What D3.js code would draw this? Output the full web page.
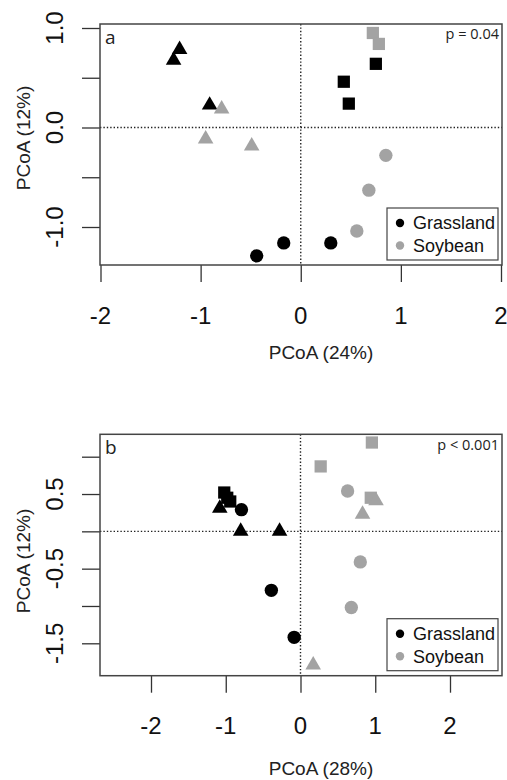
<!DOCTYPE html>
<html>
<head>
<meta charset="utf-8">
<script src="https://cdn.jsdelivr.net/npm/d3@7"></script>
<style>
  body { margin: 0; background: #fff; }
  svg { display: block; }
</style>
</head>
<body>
<svg id="chart" width="507" height="780"></svg>
<script>
// ---------- data ----------
const groups = ["Grassland", "Soybean"];
const groupColors = ["#000000", "#a3a3a3"];

// Panel a  (PCoA 24% x PCoA 12%)
const aLand  = ["Grassland","Grassland","Grassland","Soybean","Soybean","Soybean",
                "Soybean","Soybean","Grassland","Grassland","Grassland",
                "Soybean","Soybean","Soybean","Grassland","Grassland","Grassland"];
const aShape = ["triangle","triangle","triangle","triangle","triangle","triangle",
                "square","square","square","square","square",
                "circle","circle","circle","circle","circle","circle"];
const aX = [-1.21,-1.27,-0.91,-0.79,-0.95,-0.49, 0.72,0.78,0.75,0.43,0.48, 0.85,0.68,0.56,-0.17,-0.44,0.30];
const aY = [ 0.80, 0.69, 0.24, 0.20,-0.10,-0.17, 0.95,0.84,0.64,0.46,0.24,-0.28,-0.63,-1.04,-1.16,-1.29,-1.16];

// Panel b  (PCoA 28% x PCoA 12%)
const bLand  = ["Soybean","Soybean","Soybean","Soybean","Soybean","Soybean","Soybean","Soybean","Soybean",
                "Grassland","Grassland","Grassland","Grassland","Grassland","Grassland","Grassland","Grassland","Grassland"];
const bShape = ["square","square","square","circle","circle","circle","triangle","triangle","triangle",
                "square","square","square","triangle","triangle","triangle","circle","circle","circle"];
const bX = [0.955,0.27,0.94, 0.63,0.80,0.68, 1.01,0.83,0.17, -1.02,-0.94,-0.98, -1.08,-0.80,-0.28, -0.79,-0.39,-0.085];
const bY = [1.19,0.87,0.45, 0.54,-0.41,-1.02, 0.43,0.25,-1.77, 0.52,0.40,0.45, 0.33,0.02,0.02, 0.29,-0.79,-1.42];

const aXTicks = [-2,-1,0,1,2];
const aYTicks = [-1.0,-0.5,0.0,0.5,1.0];
const aYLabels = ["-1.0","0.0","1.0"];
const bXTicks = [-2,-1,0,1,2];
const bYTicks = [-1.5,-1.0,-0.5,0.0,0.5,1.0];
const bYLabels = ["-1.5","-0.5","0.5"];

const panels = [
  { tag: "a", pText: "p = 0.04", xTitle: "PCoA (24%)", yTitle: "PCoA (12%)",
    land: aLand, shape: aShape, xs: aX, ys: aY,
    xTicks: aXTicks, yTicks: aYTicks, yLabels: aYLabels,
    xDomain: [-2, 2], xRange: [100.5, 501],
    yDomain: [-1, 1], yRange: [227, 28],
    box: { l: 100, r: 502, t: 24, b: 265 },
    xLabY: 315, xTitleY: 352, yTitleY: 138 },
  { tag: "b", pText: "p < 0.001", xTitle: "PCoA (28%)", yTitle: "PCoA (12%)",
    land: bLand, shape: bShape, xs: bX, ys: bY,
    xTicks: bXTicks, yTicks: bYTicks, yLabels: bYLabels,
    xDomain: [-2, 2], xRange: [151, 450],
    yDomain: [-1.5, 1.0], yRange: [643.3, 456.7],
    box: { l: 100, r: 502, t: 434.3, b: 675.7 },
    xLabY: 725, xTitleY: 768, yTitleY: 561 }
];

const color = d3.scaleOrdinal().domain(groups).range(groupColors);
const symType = { circle: d3.symbolCircle, square: d3.symbolSquare, triangle: d3.symbolTriangle };
const symSize = { circle: 140, square: 150, triangle: 105 };

const svg = d3.select("#chart");
const FONT = "'Liberation Sans', Arial, sans-serif";
const FONT2 = "'Open Sans', 'Liberation Sans', sans-serif";

panels.forEach(p => {
  const x = d3.scaleLinear().domain(p.xDomain).range(p.xRange);
  const y = d3.scaleLinear().domain(p.yDomain).range(p.yRange);
  const g = svg.append("g");
  const B = p.box;

  // dotted zero lines
  g.append("line").attr("x1", x(0)).attr("x2", x(0)).attr("y1", B.t).attr("y2", B.b)
    .attr("stroke", "#222").attr("stroke-width", 1.4).attr("stroke-dasharray", "1.4,2");
  g.append("line").attr("x1", B.l).attr("x2", B.r).attr("y1", y(0)).attr("y2", y(0))
    .attr("stroke", "#222").attr("stroke-width", 1.4).attr("stroke-dasharray", "1.4,2");

  // x axis ticks
  const xAxis = d3.axisBottom(x).tickValues(p.xTicks).tickSize(17).tickFormat("");
  const xg = g.append("g").attr("transform", `translate(0,${B.b})`).call(xAxis);
  xg.select(".domain").remove();
  xg.selectAll(".tick line").attr("stroke", "#333").attr("stroke-width", 1.3);
  g.selectAll(".xlab").data(p.xTicks).enter().append("text")
    .attr("x", d => x(d)).attr("y", p.xLabY).attr("dy", "0.36em")
    .attr("text-anchor", "middle").attr("font-family", FONT).attr("font-size", 24)
    .attr("fill", "#111").text(d => String(d));

  // y axis ticks
  const yAxis = d3.axisLeft(y).tickValues(p.yTicks).tickSize(18).tickFormat("");
  const yg = g.append("g").attr("transform", `translate(${B.l},0)`).call(yAxis);
  yg.select(".domain").remove();
  yg.selectAll(".tick line").attr("stroke", "#333").attr("stroke-width", 1.3);
  g.selectAll(".ylab").data(p.yLabels).enter().append("text")
    .attr("transform", d => `translate(54,${y(+d)}) rotate(-90)`)
    .attr("dy", "0.36em").attr("text-anchor", "middle")
    .attr("font-family", FONT).attr("font-size", 24).attr("fill", "#111")
    .text(d => d);

  // axis titles
  g.append("text").attr("x", 321).attr("y", p.xTitleY).attr("dy", "0.36em")
    .attr("text-anchor", "middle").attr("font-family", FONT).attr("font-size", 19)
    .attr("fill", "#222").text(p.xTitle);
  g.append("text").attr("transform", `translate(23,${p.yTitleY}) rotate(-90)`)
    .attr("dy", "0.36em").attr("text-anchor", "middle").attr("font-family", FONT)
    .attr("font-size", 19).attr("fill", "#222").text(p.yTitle);

  // points
  const pts = p.xs.map((v, i) => ({ x: v, y: p.ys[i], land: p.land[i], shape: p.shape[i] }));
  g.selectAll(".pt").data(pts).enter().append("path")
    .attr("transform", d => `translate(${x(d.x)},${y(d.y) + (d.shape === "triangle" ? 1.5 : 0)})`)
    .attr("d", d => d3.symbol().type(symType[d.shape]).size(symSize[d.shape])())
    .attr("fill", d => color(d.land));

  // box
  g.append("rect").attr("x", B.l).attr("y", B.t).attr("width", B.r - B.l).attr("height", B.b - B.t)
    .attr("fill", "none").attr("stroke", "#444").attr("stroke-width", 1.5);

  // panel tag & p value
  g.append("text").attr("x", 105).attr("y", B.t + 13).attr("dy", "0.36em")
    .attr("font-family", FONT2).attr("font-size", 19).attr("fill", "#222").text(p.tag);
  g.append("text").attr("x", 499).attr("y", B.t + 10).attr("dy", "0.36em")
    .attr("text-anchor", "end").attr("font-family", FONT2).attr("font-size", 14.5)
    .attr("fill", "#222").text(p.pText);

  // legend
  const lg = g.append("g");
  lg.append("rect").attr("x", 387).attr("y", B.b - 57).attr("width", 111).attr("height", 52)
    .attr("fill", "#fff").attr("stroke", "#444").attr("stroke-width", 1.2);
  groups.forEach((grp, i) => {
    const yy = B.b - 42 + i * 22.5;
    lg.append("circle").attr("cx", 400).attr("cy", yy).attr("r", 4.2).attr("fill", color(grp));
    lg.append("text").attr("x", 413).attr("y", yy).attr("dy", "0.36em")
      .attr("font-family", FONT).attr("font-size", 18).attr("fill", "#111").text(grp);
  });
});
</script>
</body>
</html>
